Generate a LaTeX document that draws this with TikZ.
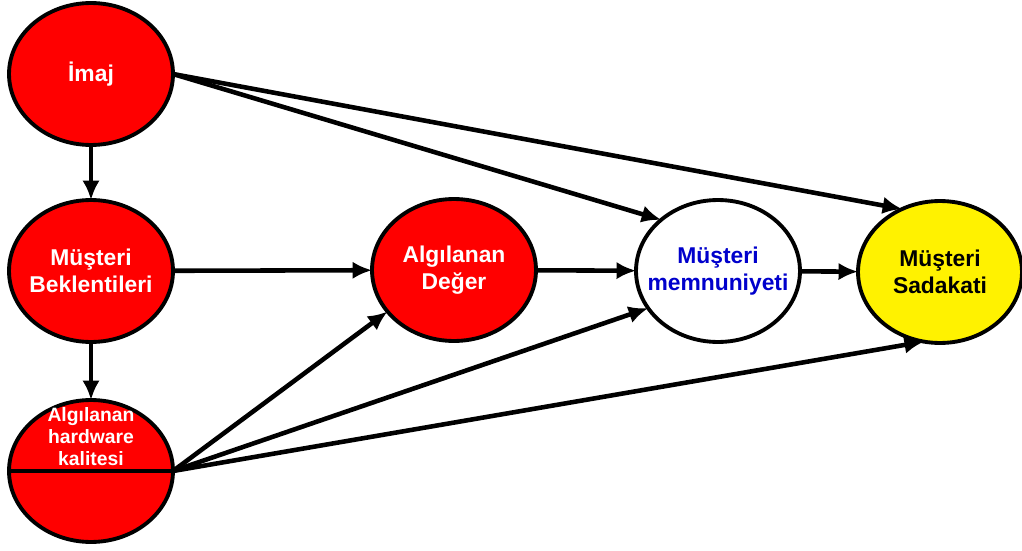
\documentclass[tikz,border=0pt]{standalone}
\usepackage{fontspec}
\setmainfont{Liberation Sans}
\usetikzlibrary{shapes.geometric,arrows.meta}
\definecolor{mblue}{RGB}{0,0,204}

\tikzset{
  bubble/.style={ellipse, draw=black, line width=2.2pt, fill=red,
    minimum width=3.28cm, minimum height=2.84cm, inner sep=-12pt, outer sep=0pt,
    text=white, font=\bfseries\fontsize{13}{15.5}\selectfont, align=center},
  small/.style={text=white, font=\bfseries\fontsize{11}{12.5}\selectfont, align=center},
  link/.style={->, line width=2.6pt}
}

\begin{document}
\begin{tikzpicture}[x=0.02cm,y=-0.02cm,>={Latex[length=3.9mm,width=3.5mm]}]
\useasboundingbox (0,0) rectangle (1022,551);

\node [bubble] (imaj) at (91,74) {İmaj};
\node [bubble] (bek) at (91,271) {Müşteri\\Beklentileri};
\node [bubble] (hw) at (91,471) {};
\node [small] (hwtext) at (91,437) {Algılanan\\hardware\\kalitesi};
\node [bubble] (deger) at (454,270) {Algılanan\\Değer};
\node [bubble, fill=white, text=mblue] (mem) at (718,271) {Müşteri\\memnuniyeti};
\node [bubble, fill=yellow, text=black] (sad) at (940,272) {Müşteri\\Sadakati};

\draw [line width=2.2pt] (hw.west) -- (hw.east);

\draw [link] (imaj) -- (bek);
\draw [link] (bek) -- (hw);
\draw [link] (bek) -- (deger);
\draw [link] (deger) -- (mem);
\draw [link] (mem) -- (sad);

\draw [link] (imaj.east) -- (mem.138);
\draw [link] (imaj.east) -- (sad.121);

\draw [link] (hw.east) -- (deger.212);
\draw [link] (hw.east) -- (mem.208);
\draw [link] (hw.east) -- (sad.257);

\end{tikzpicture}
\end{document}
